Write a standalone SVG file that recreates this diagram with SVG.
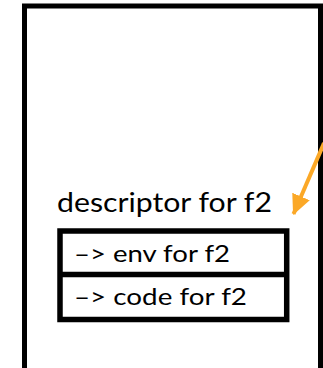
<svg xmlns="http://www.w3.org/2000/svg" width="323" height="368" viewBox="0 0 323 368">
  <style>
    .box { fill: #ffffff; stroke: #000000; stroke-width: 5; }
    .cell { fill: none; stroke: #000000; stroke-width: 5.5; }
    .lbl { font-family: "Lato", "Open Sans", "Liberation Sans", sans-serif; fill: #000000; }
    .conn { stroke: #FBA827; stroke-width: 4; fill: none; }
  </style>
  <defs>
    <marker id="ah" markerUnits="userSpaceOnUse" markerWidth="22" markerHeight="22" refX="19" refY="11" orient="auto">
      <path d="M0,1.5 L20,11 L0,20.5 Z" fill="#FBA827"/>
    </marker>
  </defs>
  <rect width="323" height="368" fill="#ffffff"/>
  <g id="frame">
    <rect class="box" x="24.5" y="6" width="296" height="380"/>
  </g>
  <g id="descriptor">
    <text class="lbl" x="57" y="212" font-size="27" textLength="215" lengthAdjust="spacingAndGlyphs">descriptor for f2</text>
    <rect class="cell" x="60" y="231" width="226.7" height="88.5"/>
    <line class="cell" x1="60" y1="274.5" x2="286.7" y2="274.5"/>
  </g>
  <g id="env">
    <text class="lbl" x="74" y="262" font-size="24" textLength="156" lengthAdjust="spacingAndGlyphs">–&gt; env for f2</text>
  </g>
  <g id="code">
    <text class="lbl" x="74" y="305" font-size="24" textLength="173" lengthAdjust="spacingAndGlyphs">–&gt; code for f2</text>
  </g>
  <g id="connectors">
    <line class="conn" x1="324" y1="143" x2="293.5" y2="214" marker-end="url(#ah)"/>
  </g>
</svg>
